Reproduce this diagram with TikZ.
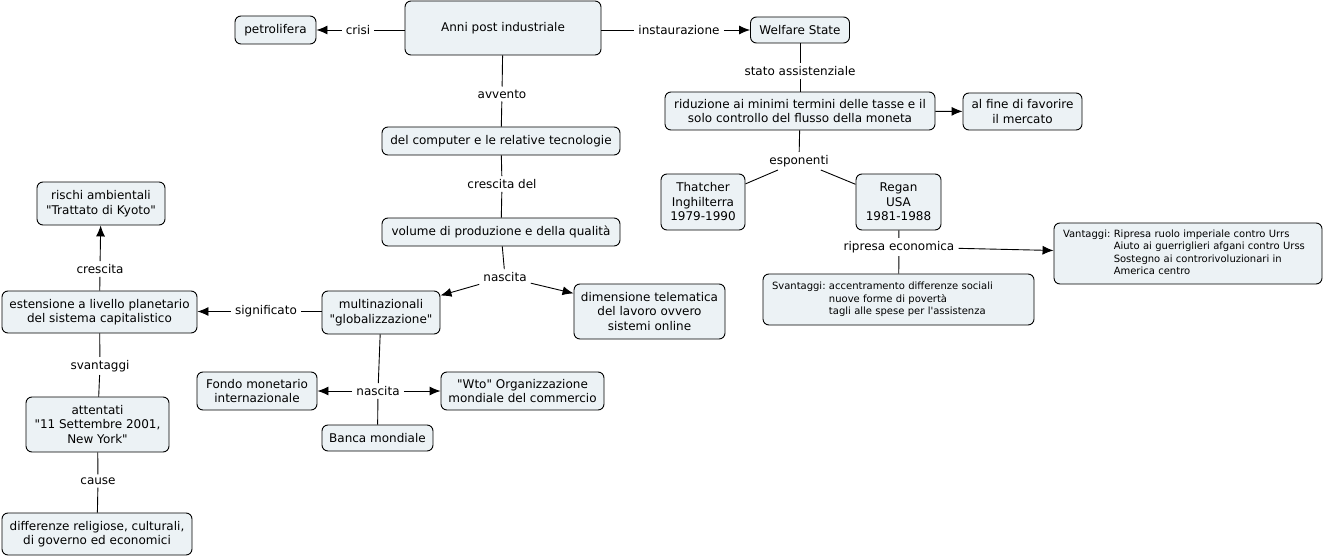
\documentclass[tikz,border=0pt]{standalone}
\usepackage{fontspec}
\setmainfont{DejaVu Sans}[Ligatures=TeXOff]
\usetikzlibrary{arrows.meta}
\definecolor{boxfill}{RGB}{236,242,245}
\begin{document}
\begin{tikzpicture}[x=1pt,y=-1pt,
  box/.style={draw=black, line width=0.9pt, rounded corners=6pt, fill=boxfill, align=center, inner sep=0pt, font=\fontsize{12}{14.5}\selectfont},
  lbox/.style={box, align=left, inner xsep=9pt, font=\fontsize{10}{12.5}\selectfont},
  lbl/.style={inner xsep=4pt, inner ysep=3pt, font=\fontsize{12}{14.5}\selectfont},
  conn/.style={line width=0.9pt},
  arr/.style={conn, -{Latex[length=11pt,width=9pt]}},
]
\useasboundingbox (0,0) rectangle (1325,559);

% boxes
\node[box, minimum width=196, minimum height=54] (anni) at (503,28) {Anni post industriale};
\node[box, minimum width=81, minimum height=28] (petro) at (275.5,30) {petrolifera};
\node[box, minimum width=99, minimum height=26] (welf) at (800,30) {Welfare State};
\node[box, minimum width=270, minimum height=38] (rid) at (800,111) {riduzione ai minimi termini delle tasse e il\\solo controllo del flusso della moneta};
\node[box, minimum width=119, minimum height=37] (alfine) at (1022.5,111.5) {al fine di favorire\\il mercato};
\node[box, minimum width=84, minimum height=56] (thatcher) at (703,202) {Thatcher\\Inghilterra\\1979-1990};
\node[box, minimum width=85, minimum height=56] (regan) at (898.5,202) {Regan\\USA\\1981-1988};
\node[lbox, text width=250, minimum height=61] (vant) at (1188,253.5) {\begin{tabular}{@{}l@{\ }l@{}}Vantaggi: & Ripresa ruolo imperiale contro Urrs\\ & Aiuto ai guerriglieri afgani contro Urss\\ & Sostegno ai controrivoluzionari in\\ & America centro\end{tabular}};
\node[lbox, text width=253, minimum height=51] (svant) at (898.5,299.5) {\begin{tabular}{@{}l@{\ }l@{}}Svantaggi: & accentramento differenze sociali\\ & nuove forme di povertà\\ & tagli alle spese per l'assistenza\end{tabular}};
\node[box, minimum width=238, minimum height=28] (comp) at (501,141) {del computer e le relative tecnologie};
\node[box, minimum width=238, minimum height=28] (vol) at (501,232) {volume di produzione e della qualità};
\node[box, minimum width=118, minimum height=43] (multi) at (381,312.5) {multinazionali\\"globalizzazione"};
\node[box, minimum width=151, minimum height=55] (dim) at (649.5,311.5) {dimensione telematica\\del lavoro ovvero\\sistemi online};
\node[box, minimum width=195, minimum height=42] (est) at (99.5,312) {estensione a livello planetario\\del sistema capitalistico};
\node[box, minimum width=128, minimum height=43] (rischi) at (101,203.5) {rischi ambientali\\"Trattato di Kyoto"};
\node[box, minimum width=143, minimum height=55] (att) at (97.5,424.5) {attentati\\"11 Settembre 2001,\\New York"};
\node[box, minimum width=190, minimum height=42] (diff) at (97,534) {differenze religiose, culturali,\\di governo ed economici};
\node[box, minimum width=120, minimum height=38] (fondo) at (257,391) {Fondo monetario\\internazionale};
\node[box, minimum width=163, minimum height=38] (wto) at (522.5,391) {"Wto" Organizzazione\\mondiale del commercio};
\node[box, minimum width=111, minimum height=26] (banca) at (377.5,438) {Banca mondiale};

% labels
\node[lbl] (crisi) at (358,30) {crisi};
\node[lbl] (inst) at (679,30) {instaurazione};
\node[lbl] (stato) at (800,71) {stato assistenziale};
\node[lbl] (avv) at (502,94) {avvento};
\node[lbl] (esp) at (799,161) {esponenti};
\node[lbl] (rip) at (899,247) {ripresa economica};
\node[lbl] (cresdel) at (502,184) {crescita del};
\node[lbl] (nasc1) at (505,277) {nascita};
\node[lbl] (sign) at (266,311.5) {significato};
\node[lbl] (cresc) at (100,269) {crescita};
\node[lbl] (svan) at (100,366) {svantaggi};
\node[lbl] (cause) at (98,481) {cause};
\node[lbl] (nasc2) at (378,391) {nascita};

% connectors
\draw[conn] (anni.west |- crisi) -- (crisi);
\draw[arr] (crisi) -- (petro.east |- crisi);
\draw[conn] (anni.east |- inst) -- (inst);
\draw[arr] (inst) -- (welf.west |- inst);
\draw[conn] (welf) -- (stato);
\draw[conn] (stato) -- (rid);
\draw[arr] (rid) -- (alfine);
\draw[conn] (rid) -- (esp);
\draw[conn] (esp) -- (thatcher);
\draw[conn] (esp) -- (regan);
\draw[conn] (regan) -- (rip);
\draw[conn] (rip) -- (svant);
\draw[arr] (rip) -- (vant);
\draw[conn] (anni) -- (avv);
\draw[conn] (avv) -- (comp);
\draw[conn] (comp) -- (cresdel);
\draw[conn] (cresdel) -- (vol);
\draw[conn] (vol) -- (nasc1);
\draw[arr] (nasc1) -- (multi);
\draw[arr] (nasc1) -- (dim);
\draw[conn] (multi.west |- sign) -- (sign);
\draw[arr] (sign) -- (est.east |- sign);
\draw[conn] (est) -- (cresc);
\draw[arr] (cresc) -- (rischi);
\draw[conn] (est) -- (svan);
\draw[conn] (svan) -- (att);
\draw[conn] (att) -- (cause);
\draw[conn] (cause) -- (diff);
\draw[conn] (multi) -- (nasc2);
\draw[arr] (nasc2) -- (fondo);
\draw[arr] (nasc2) -- (wto);
\draw[conn] (nasc2) -- (banca);
\end{tikzpicture}
\end{document}
